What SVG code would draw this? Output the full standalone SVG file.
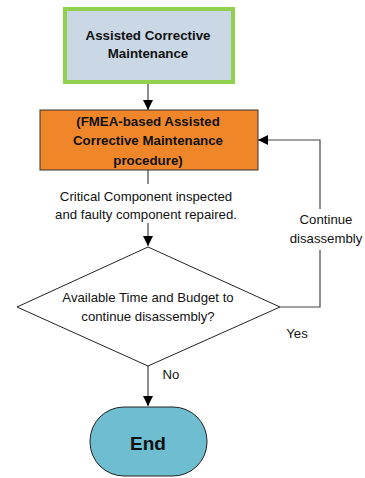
<svg xmlns="http://www.w3.org/2000/svg" width="365" height="478" viewBox="0 0 365 478">
<style>
text{font-family:"Liberation Sans",Arial,sans-serif;fill:#111;text-anchor:middle}
.b{font-weight:bold;font-size:13.3px}
.n{font-size:13.2px}
.ln{stroke:#444;stroke-width:1.2;fill:none}
</style>
<defs>
<marker id="ah" viewBox="0 0 10 10" refX="10" refY="5" markerWidth="10" markerHeight="10" markerUnits="userSpaceOnUse" orient="auto">
<path d="M0,0 L10,5 L0,10 Z" fill="#000"/>
</marker>
</defs>
<g id="connectors">
<line class="ln" x1="148" y1="82" x2="148" y2="110" marker-end="url(#ah)"/>
<line class="ln" x1="148" y1="170" x2="148" y2="184"/>
<line class="ln" x1="148" y1="223" x2="148" y2="246" marker-end="url(#ah)"/>
<polyline class="ln" points="280,307 320,307 320,250"/>
<polyline class="ln" points="320,209 320,140 258,140" marker-end="url(#ah)"/>
<line class="ln" x1="148" y1="366" x2="148" y2="406" marker-end="url(#ah)"/>
<text class="n" x="146" y="201">Critical Component inspected</text>
<text class="n" x="146" y="219">and faulty component repaired.</text>
<text class="n" x="326" y="224">Continue</text>
<text class="n" x="326" y="243">disassembly</text>
<text class="n" x="297" y="338">Yes</text>
<text class="n" x="171" y="379">No</text>
</g>
<g id="start">
<rect x="65" y="9" width="168" height="73" fill="#CAD7E5" stroke="#92D050" stroke-width="4"/>
<text class="b" x="148" y="40">Assisted Corrective</text>
<text class="b" x="148" y="58">Maintenance</text>
</g>
<g id="procedure">
<rect x="40" y="110" width="218" height="60" fill="#F0862A" stroke="#333" stroke-width="1"/>
<text class="b" x="148" y="126">(FMEA-based Assisted</text>
<text class="b" x="148" y="145">Corrective Maintenance</text>
<text class="b" x="148" y="165">procedure)</text>
</g>
<g id="decision">
<polygon points="148,247 280,307 148,366 17,307" fill="#fff" stroke="#222" stroke-width="1"/>
<text class="n" x="148" y="302">Available Time and Budget to</text>
<text class="n" x="148" y="321">continue disassembly?</text>
</g>
<g id="end">
<rect x="90" y="407" width="117" height="69" rx="34" ry="34" fill="#6FBDD1" stroke="#222" stroke-width="1"/>
<text x="148" y="450" style="font-weight:bold;font-size:19px">End</text>
</g>
</svg>
